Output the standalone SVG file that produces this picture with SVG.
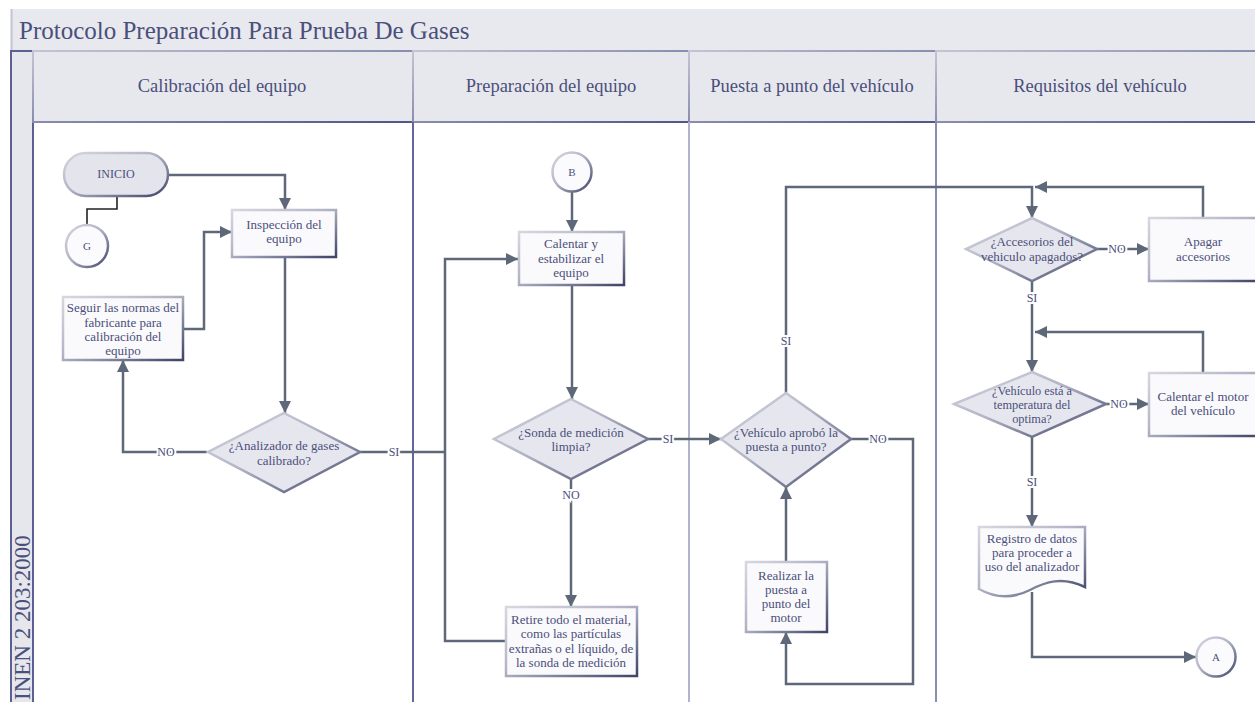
<svg xmlns="http://www.w3.org/2000/svg" width="1255" height="702" viewBox="0 0 1255 702">
  <defs>
    <linearGradient id="edge" x1="0" y1="0" x2="1" y2="1">
      <stop offset="0" stop-color="#d6d7df"/>
      <stop offset="0.45" stop-color="#b3b5c6"/>
      <stop offset="1" stop-color="#3f4468"/>
    </linearGradient>
    <linearGradient id="hdr" x1="0" y1="0" x2="1" y2="1">
      <stop offset="0" stop-color="#c3c4d4"/>
      <stop offset="1" stop-color="#50558a"/>
    </linearGradient>
    <linearGradient id="topline" x1="0" y1="0" x2="1" y2="0">
      <stop offset="0" stop-color="#b9bbcf"/>
      <stop offset="1" stop-color="#575b8c"/>
    </linearGradient>
    <marker id="arr" viewBox="0 0 10 10" refX="10" refY="5" markerWidth="13" markerHeight="12" markerUnits="userSpaceOnUse" orient="auto">
      <path d="M0,0 L10,5 L0,10 Z" fill="#5e6878"/>
    </marker>
    <style>
      text { font-family: "Liberation Serif", "DejaVu Serif", serif; fill: #4b4f7b; }
      .title { font-size: 25px; }
      .lane { font-size: 18.5px; text-anchor: middle; }
      .t { font-size: 13px; text-anchor: middle; }
      .tight { font-size: 12.3px; }
      .small { font-size: 12px; text-anchor: middle; }
      .lbl { font-size: 12px; text-anchor: middle; stroke: #ffffff; stroke-width: 4px; paint-order: stroke; }
      .box { fill: #fafafc; stroke: url(#edge); stroke-width: 2.5; }
      .dia { fill: #e6e7ee; stroke: url(#edge); stroke-width: 2.5; }
      .term { fill: #e3e4ec; stroke: url(#edge); stroke-width: 2.5; }
      .circ { fill: #fbfbfd; stroke: url(#edge); stroke-width: 2.5; }
      .c { fill: none; stroke: #5e6878; stroke-width: 2.5; }
      .ca { fill: none; stroke: #5e6878; stroke-width: 2.5; marker-end: url(#arr); }
    </style>
  </defs>

  <rect width="1255" height="702" fill="#ffffff"/>

  <!-- pool frame and title band -->
  <g id="pool">
    <rect x="11" y="9" width="1250" height="42" fill="#e8e9ee"/>
    <line x1="11" y1="9.5" x2="1255" y2="9.5" stroke="url(#topline)" stroke-width="2"/>
    <line x1="11.5" y1="9" x2="11.5" y2="51" stroke="#c2c3d3" stroke-width="2"/>
    <text class="title" x="19" y="39">Protocolo Preparación Para Prueba De Gases</text>
    <rect x="11" y="51" width="22" height="660" fill="#e6e7ec" stroke="#5c6090" stroke-width="2"/>
    <text transform="translate(30,700) rotate(-90)" style="font-size:23px">INEN 2 203:2000</text>
  </g>

  <!-- lane headers -->
  <g id="lanes">
    <rect x="33" y="51" width="380" height="71" fill="#e7e8ed" stroke="url(#hdr)" stroke-width="2"/>
    <rect x="413" y="51" width="276" height="71" fill="#e7e8ed" stroke="url(#hdr)" stroke-width="2"/>
    <rect x="689" y="51" width="247" height="71" fill="#e7e8ed" stroke="url(#hdr)" stroke-width="2"/>
    <rect x="936" y="51" width="325" height="71" fill="#e7e8ed" stroke="url(#hdr)" stroke-width="2"/>
    <text class="lane" x="222" y="92">Calibración del equipo</text>
    <text class="lane" x="551" y="92">Preparación del equipo</text>
    <text class="lane" x="812" y="92">Puesta a punto del vehículo</text>
    <text class="lane" x="1100" y="92">Requisitos del vehículo</text>
    <line x1="413" y1="122" x2="413" y2="702" stroke="#62669a" stroke-width="2"/>
    <line x1="689" y1="122" x2="689" y2="702" stroke="#b2b4cb" stroke-width="2"/>
    <line x1="936" y1="122" x2="936" y2="702" stroke="#8a8db0" stroke-width="2"/>
  </g>

  <!-- connectors -->
  <g id="connectors">
    <path d="M117,196 V209 H87 V225" fill="none" stroke="#222222" stroke-width="1.6"/>
    <path class="ca" d="M168,175 H285 V210"/>
    <path class="ca" d="M183,329 H204 V232 H232"/>
    <path class="ca" d="M285,257 V413"/>
    <path class="ca" d="M207,452 H123 V360"/>
    <path class="c" d="M360,452 H445"/>
    <path class="ca" d="M506,641 H445 V259 H518"/>
    <path class="ca" d="M572,191 V232"/>
    <path class="ca" d="M572,285 V399"/>
    <path class="ca" d="M571,479 V607"/>
    <path class="ca" d="M648,439 H721"/>
    <path class="ca" d="M851,439 H913 V684 H786 V632"/>
    <path class="ca" d="M786,562 V487"/>
    <path class="ca" d="M786,393 V187 H1032 V218"/>
    <path class="ca" d="M1203,218 V187 H1035"/>
    <path class="ca" d="M1097,249 H1149"/>
    <path class="ca" d="M1032,281 V372"/>
    <path class="ca" d="M1203,373 V332 H1035"/>
    <path class="ca" d="M1106,404 H1149"/>
    <path class="ca" d="M1032,437 V527"/>
    <path class="ca" d="M1032,592 V657 H1196"/>
    <text class="lbl" x="166" y="456">NO</text>
    <text class="lbl" x="394" y="456">SI</text>
    <text class="lbl" x="571" y="499">NO</text>
    <text class="lbl" x="668" y="443">SI</text>
    <text class="lbl" x="878" y="443">NO</text>
    <text class="lbl" x="786" y="345">SI</text>
    <text class="lbl" x="1117" y="253">NO</text>
    <text class="lbl" x="1032" y="302">SI</text>
    <text class="lbl" x="1119" y="408">NO</text>
    <text class="lbl" x="1032" y="486">SI</text>
  </g>

  <g id="inicio">
    <rect class="term" x="64" y="153" width="104" height="43" rx="21.5"/>
    <text class="small" x="116" y="178">INICIO</text>
  </g>
  <g id="conector-g">
    <circle class="circ" cx="87" cy="246" r="21"/>
    <text class="small" x="87" y="250" style="font-size:11px">G</text>
  </g>
  <g id="inspeccion">
    <rect class="box" x="232" y="210" width="104" height="47"/>
    <text class="t" x="284" y="229">Inspección del</text>
    <text class="t" x="284" y="243">equipo</text>
  </g>
  <g id="seguir-normas">
    <rect class="box" x="63" y="297" width="120" height="63"/>
    <text class="t" x="123" y="312">Seguir las normas del</text>
    <text class="t" x="123" y="327">fabricante para</text>
    <text class="t" x="123" y="341">calibración del</text>
    <text class="t" x="123" y="355">equipo</text>
  </g>
  <g id="analizador-calibrado">
    <polygon class="dia" points="284,413 360,452 284,492 208,452"/>
    <text class="t" x="284" y="450">¿Analizador de gases</text>
    <text class="t" x="284" y="465">calibrado?</text>
  </g>

  <g id="conector-b">
    <circle class="circ" cx="572" cy="172" r="19.5"/>
    <text class="small" x="572" y="176" style="font-size:11px">B</text>
  </g>
  <g id="calentar-equipo">
    <rect class="box" x="519" y="232" width="105" height="53"/>
    <text class="t" x="571" y="248">Calentar y</text>
    <text class="t" x="571" y="263">estabilizar el</text>
    <text class="t" x="571" y="277">equipo</text>
  </g>
  <g id="sonda-limpia">
    <polygon class="dia" points="571,399 648,439 571,479 494,439"/>
    <text class="t" x="571" y="437">¿Sonda de medición</text>
    <text class="t" x="571" y="451">limpia?</text>
  </g>
  <g id="retire-material">
    <rect class="box" x="506" y="607" width="131" height="69"/>
    <text class="t" x="571" y="624">Retire todo el material,</text>
    <text class="t" x="571" y="638">como las partículas</text>
    <text class="t" x="571" y="653">extrañas o el líquido, de</text>
    <text class="t" x="571" y="667">la sonda de medición</text>
  </g>

  <g id="vehiculo-aprobo">
    <polygon class="dia" points="786,393 851,439 786,487 721,439"/>
    <text class="t" x="786" y="437">¿Vehículo aprobó la</text>
    <text class="t" x="786" y="451">puesta a punto?</text>
  </g>
  <g id="realizar-puesta">
    <rect class="box" x="746" y="562" width="81" height="70"/>
    <text class="t" x="786" y="580">Realizar la</text>
    <text class="t" x="786" y="594">puesta a</text>
    <text class="t" x="786" y="608">punto del</text>
    <text class="t" x="786" y="622">motor</text>
  </g>

  <g id="accesorios-apagados">
    <polygon class="dia" points="1032,218 1097,249 1032,281 966,249"/>
    <text class="t" x="1032" y="246">¿Accesorios del</text>
    <text class="t" x="1032" y="261">vehiculo apagados?</text>
  </g>
  <g id="apagar-accesorios">
    <rect class="box" x="1149" y="218" width="110" height="63"/>
    <text class="t" x="1203" y="246">Apagar</text>
    <text class="t" x="1203" y="261">accesorios</text>
  </g>
  <g id="temperatura-optima">
    <polygon class="dia" points="1032,372 1106,404 1032,437 954,404"/>
    <text class="t tight" x="1032" y="395">¿Vehículo está a</text>
    <text class="t tight" x="1032" y="409">temperatura del</text>
    <text class="t tight" x="1032" y="423">optima?</text>
  </g>
  <g id="calentar-motor">
    <rect class="box" x="1149" y="373" width="110" height="63"/>
    <text class="t" x="1203" y="401">Calentar el motor</text>
    <text class="t" x="1203" y="415">del vehículo</text>
  </g>
  <g id="registro-datos">
    <path class="box" d="M979,527 H1085 V587 C1062,576 1045,582 1030,590 C1012,599 995,598 979,589 Z"/>
    <text class="t" x="1032" y="543">Registro de datos</text>
    <text class="t" x="1032" y="557">para proceder a</text>
    <text class="t" x="1032" y="571">uso del analizador</text>
  </g>
  <g id="conector-a">
    <circle class="circ" cx="1216" cy="657" r="19.5"/>
    <text class="small" x="1216" y="661" style="font-size:11px">A</text>
  </g>
</svg>
